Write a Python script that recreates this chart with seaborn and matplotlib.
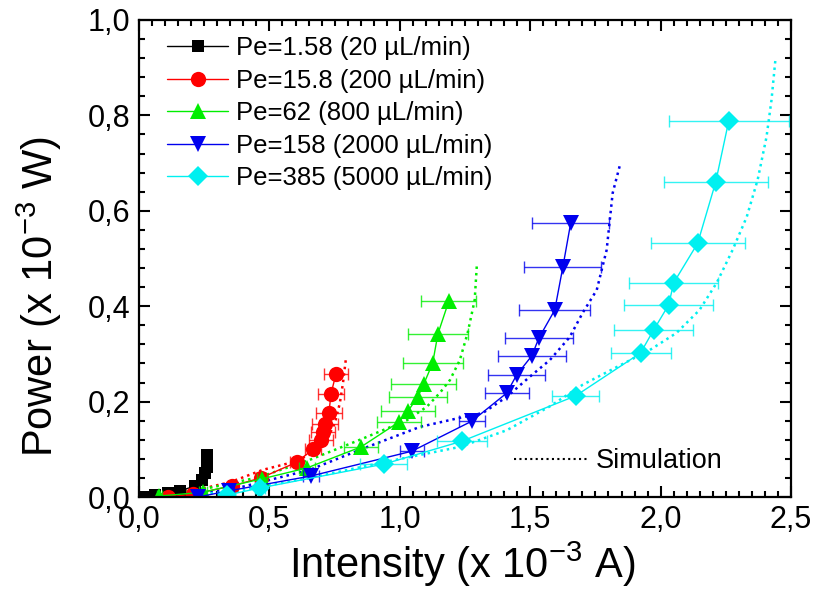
import numpy as np
import pandas as pd
import matplotlib
matplotlib.use('Agg')
import matplotlib.pyplot as plt
from matplotlib.ticker import MultipleLocator, FuncFormatter
from matplotlib.lines import Line2D
import seaborn as sns

# legend labels, colors and markers of the five flow rates
labels = ['Pe=1.58 (20 µL/min)', 'Pe=15.8 (200 µL/min)', 'Pe=62 (800 µL/min)',
          'Pe=158 (2000 µL/min)', 'Pe=385 (5000 µL/min)']
colors = ['black', 'red', '#00ee00', '#0000ee', '#00f0f0']
markers = ['s', 'o', '^', 'v', 'D']

# measured intensity (x 1e-3 A), power (x 1e-3 W) and intensity error
i_pe1 = [0.015, 0.06, 0.11, 0.157, 0.215, 0.24, 0.253, 0.26, 0.26, 0.26]
p_pe1 = [0.0, 0.004, 0.008, 0.013, 0.023, 0.036, 0.05, 0.063, 0.078, 0.088]
e_pe1 = [0.005, 0.005, 0.005, 0.005, 0.005, 0.008, 0.008, 0.01, 0.01, 0.01]

i_pe2 = [0.11, 0.207, 0.356, 0.467, 0.605, 0.667, 0.697, 0.705, 0.713, 0.728, 0.736, 0.755]
p_pe2 = [0.0, 0.006, 0.023, 0.040, 0.073, 0.10, 0.12, 0.136, 0.153, 0.176, 0.216, 0.258]
e_pe2 = [0.01, 0.01, 0.015, 0.02, 0.025, 0.03, 0.045, 0.045, 0.05, 0.05, 0.05, 0.045]

i_pe3 = [0.077, 0.245, 0.471, 0.644, 0.851, 0.996, 1.031, 1.069, 1.092, 1.126, 1.146, 1.188]
p_pe3 = [0.002, 0.010, 0.038, 0.061, 0.105, 0.157, 0.180, 0.210, 0.237, 0.281, 0.342, 0.411]
e_pe3 = [0.01, 0.015, 0.02, 0.03, 0.065, 0.085, 0.105, 0.11, 0.125, 0.115, 0.115, 0.105]

i_pe4 = [0.226, 0.345, 0.659, 1.046, 1.276, 1.410, 1.448, 1.506, 1.533, 1.594, 1.625, 1.655]
p_pe4 = [0.0, 0.013, 0.044, 0.096, 0.159, 0.218, 0.256, 0.296, 0.333, 0.392, 0.482, 0.574]
e_pe4 = [0.01, 0.02, 0.03, 0.045, 0.05, 0.085, 0.11, 0.13, 0.13, 0.137, 0.148, 0.147]

i_pe5 = [0.337, 0.464, 0.939, 1.238, 1.674, 1.923, 1.973, 2.031, 2.050, 2.142, 2.211, 2.261]
p_pe5 = [0.004, 0.019, 0.069, 0.117, 0.212, 0.302, 0.350, 0.403, 0.449, 0.532, 0.660, 0.788]
e_pe5 = [0.01, 0.02, 0.09, 0.095, 0.09, 0.115, 0.15, 0.17, 0.17, 0.18, 0.2, 0.23]

# simulation curves
sim_i_pe1 = [0.0, 0.1, 0.2, 0.25, 0.27]
sim_p_pe1 = [0.0, 0.006, 0.018, 0.04, 0.09]

sim_i_pe2 = [0.0, 0.222, 0.349, 0.475, 0.59, 0.667, 0.72, 0.751, 0.77, 0.782, 0.793]
sim_p_pe2 = [0.0, 0.015, 0.031, 0.057, 0.073, 0.092, 0.12, 0.155, 0.197, 0.239, 0.289]

sim_i_pe3 = [0.0, 0.234, 0.464, 0.655, 0.847, 1.027, 1.103, 1.153, 1.192, 1.23, 1.26, 1.287, 1.295]
sim_p_pe3 = [0.0, 0.015, 0.042, 0.078, 0.12, 0.161, 0.189, 0.218, 0.245, 0.287, 0.344, 0.413, 0.484]

sim_i_pe4 = [0.0, 0.35, 0.655, 0.847, 1.077, 1.23, 1.318, 1.41, 1.498, 1.575, 1.651, 1.701,
             1.755, 1.793, 1.816, 1.843]
sim_p_pe4 = [0.0, 0.015, 0.057, 0.099, 0.147, 0.166, 0.176, 0.21, 0.252, 0.287, 0.335, 0.386,
             0.434, 0.518, 0.637, 0.694]

sim_i_pe5 = [0.0, 0.349, 0.655, 0.939, 1.23, 1.41, 1.575, 1.70, 1.83, 1.958, 2.061, 2.149,
             2.215, 2.276, 2.33, 2.372, 2.406, 2.425, 2.441]
sim_p_pe5 = [0.0, 0.01, 0.04, 0.073, 0.105, 0.14, 0.19, 0.235, 0.272, 0.308, 0.344, 0.392,
             0.449, 0.518, 0.587, 0.665, 0.755, 0.832, 0.922]

meas = [(i_pe1, p_pe1, e_pe1), (i_pe2, p_pe2, e_pe2), (i_pe3, p_pe3, e_pe3),
        (i_pe4, p_pe4, e_pe4), (i_pe5, p_pe5, e_pe5)]
sims = [(sim_i_pe1, sim_p_pe1), (sim_i_pe2, sim_p_pe2), (sim_i_pe3, sim_p_pe3),
        (sim_i_pe4, sim_p_pe4), (sim_i_pe5, sim_p_pe5)]

sns.set_theme(style='ticks')
plt.rcParams['font.family'] = ['Liberation Sans', 'DejaVu Sans']
plt.rcParams['mathtext.fontset'] = 'custom'
plt.rcParams['mathtext.rm'] = 'Liberation Sans'
plt.rcParams['mathtext.it'] = 'Liberation Sans:italic'
plt.rcParams['text.color'] = 'black'
plt.rcParams['axes.labelcolor'] = 'black'

fig = plt.figure(figsize=(8.15, 6.02), dpi=100)
ax = fig.add_axes([0.1706, 0.1744, 0.8, 0.7924])

# simulation (dotted)
for (si, sp), c in zip(sims, colors):
    sns.lineplot(x=si, y=sp, ax=ax, color=c, sort=False, estimator=None,
                 linestyle=(0, (1, 1.6)), linewidth=1.8)

# measurements with error bars
sizes = {'s': 9, 'o': 11, '^': 11, 'v': 11, 'D': 10}
for (mi, mp, me), c, m, lab in zip(meas, colors, markers, labels):
    ax.errorbar(mi, mp, xerr=me, fmt='none', ecolor=c, elinewidth=1,
                capsize=4, capthick=1, alpha=0.8)
    sns.lineplot(x=mi, y=mp, ax=ax, color=c, sort=False, estimator=None,
                 marker=m, markersize=sizes[m], markeredgewidth=0, linewidth=1,
                 label=lab)

ax.set_xlim(0, 2.5)
ax.set_ylim(0, 1.0)
ax.xaxis.set_major_locator(MultipleLocator(0.5))
ax.xaxis.set_minor_locator(MultipleLocator(0.05))
ax.yaxis.set_major_locator(MultipleLocator(0.2))
ax.yaxis.set_minor_locator(MultipleLocator(0.04))
comma = FuncFormatter(lambda v, pos: ('%.1f' % v).replace('.', ','))
ax.xaxis.set_major_formatter(comma)
ax.yaxis.set_major_formatter(comma)
ax.tick_params(which='both', direction='in', top=True, right=True, width=1.5,
               labelsize=22, colors='black')
ax.tick_params(which='major', length=8, pad=6)
ax.tick_params(which='minor', length=4)
for s in ax.spines.values():
    s.set_linewidth(1.6)
    s.set_color('black')

ax.set_xlabel('Intensity (x 10$^{-3}$ A)', fontsize=30)
ax.set_ylabel('Power (x 10$^{-3}$ W)', fontsize=30)
ax.xaxis.set_label_coords(0.495, -0.09)
ax.yaxis.set_label_coords(-0.115, 0.42)

leg = ax.legend(loc='upper left', bbox_to_anchor=(0.015, 1.004), frameon=False,
                fontsize=18.5, handlelength=2.4, handletextpad=0.3,
                labelspacing=0.33, borderaxespad=0.3)
ax.add_artist(leg)
sim_handle = Line2D([], [], color='black', linestyle=(0, (1, 1.6)), linewidth=1.5)
ax.legend([sim_handle], ['Simulation'], loc='center right',
          bbox_to_anchor=(0.933, 0.075), frameon=False, fontsize=19.5,
          handlelength=2.8, handletextpad=0.25)

fig.savefig('out.png', dpi=100)
